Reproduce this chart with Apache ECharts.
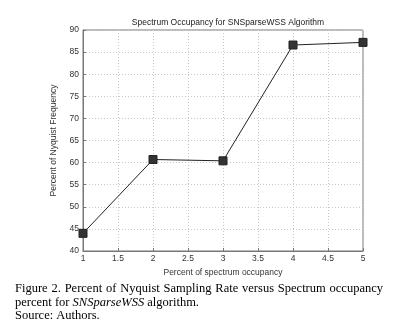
<!DOCTYPE html>
<html>
<head>
<meta charset="utf-8">
<script src="https://cdn.jsdelivr.net/npm/echarts@6/dist/echarts.min.js"></script>
<style>
  html, body { margin: 0; padding: 0; background: #fff; }
  #chart { width: 393px; height: 327px; }
</style>
</head>
<body>
<div id="chart"></div>
<script>
// data
const occupancy = [1, 2, 3, 4, 5]
const nyquistPercent = [44.0, 60.7, 60.4, 86.6, 87.2]

const captionLine1 = 'Figure 2. Percent of Nyquist Sampling Rate versus Spectrum occupancy'

const chart = echarts.init(document.getElementById('chart'))

const axisText = { color: '#333', fontSize: 8.5, fontFamily: 'Liberation Sans, Arial, sans-serif' }
const dotted = { show: true, lineStyle: { color: '#c8c8c8', type: [1, 2], width: 1 } }
const serif = '12.5px "Liberation Serif", "Times New Roman", serif'

// justify the first caption line across the text width
function justified(line, font, width) {
  const ctx = document.createElement('canvas').getContext('2d')
  ctx.font = font
  const words = line.split(' ')
  const used = words.reduce((s, w) => s + ctx.measureText(w).width, 0)
  const gap = (width - used) / (words.length - 1)
  return {
    text: words.map(w => `{w|${w}}`).join('{g| }'),
    rich: {
      w: { font: font, fill: '#000' },
      g: { font: font, width: gap }
    }
  }
}

const line1 = justified(captionLine1, serif, 368)

const option = {
  animation: false,
  backgroundColor: '#fff',
  title: {
    text: 'Spectrum Occupancy for SNSparseWSS Algorithm',
    left: 223,
    top: 13,
    textAlign: 'center',
    textStyle: { fontSize: 8.5, fontWeight: 'normal', color: '#222', fontFamily: 'Liberation Sans, Arial, sans-serif' }
  },
  grid: { left: 83, right: 30, top: 30, bottom: 76 },
  xAxis: {
    type: 'value',
    min: 1,
    max: 5,
    interval: 0.5,
    name: 'Percent of spectrum occupancy',
    nameLocation: 'middle',
    nameGap: 14,
    nameTextStyle: axisText,
    axisLine: { show: true, onZero: false, lineStyle: { color: '#777', width: 1 } },
    axisTick: { show: true, inside: true, length: 3, lineStyle: { color: '#777' } },
    axisLabel: Object.assign({ margin: 3 }, axisText),
    splitLine: dotted
  },
  yAxis: {
    type: 'value',
    min: 40,
    max: 90,
    interval: 5,
    name: 'Percent of Nyquist Frequency',
    nameLocation: 'middle',
    nameGap: 19,
    nameTextStyle: axisText,
    axisLine: { show: true, lineStyle: { color: '#777', width: 1 } },
    axisTick: { show: true, inside: true, length: 3, lineStyle: { color: '#777' } },
    axisLabel: Object.assign({ margin: 4 }, axisText),
    splitLine: dotted
  },
  series: [
    {
      type: 'line',
      data: occupancy.map((x, i) => [x, nyquistPercent[i]]),
      symbol: 'rect',
      symbolSize: 8,
      lineStyle: { color: '#222', width: 1 },
      itemStyle: { color: '#333', borderColor: '#222', borderWidth: 1 }
    }
  ],
  graphic: {
    elements: [
      // box border on top and right
      {
        type: 'rect',
        shape: { x: 83, y: 30, width: 280, height: 221 },
        style: { fill: 'none', stroke: '#777', lineWidth: 1 },
        silent: true
      },
      {
        type: 'text',
        left: 15,
        top: 282,
        style: { text: line1.text, rich: line1.rich }
      },
      {
        type: 'text',
        left: 15,
        top: 296,
        style: {
          text: '{n|percent for }{i|SNSparseWSS}{n| algorithm.}',
          rich: {
            n: { font: serif, fill: '#000' },
            i: { font: 'italic ' + serif, fill: '#000' }
          }
        }
      },
      {
        type: 'text',
        left: 15,
        top: 309,
        style: { text: 'Source: Authors.', font: serif, fill: '#000' }
      }
    ]
  }
}

chart.setOption(option)
</script>
</body>
</html>
